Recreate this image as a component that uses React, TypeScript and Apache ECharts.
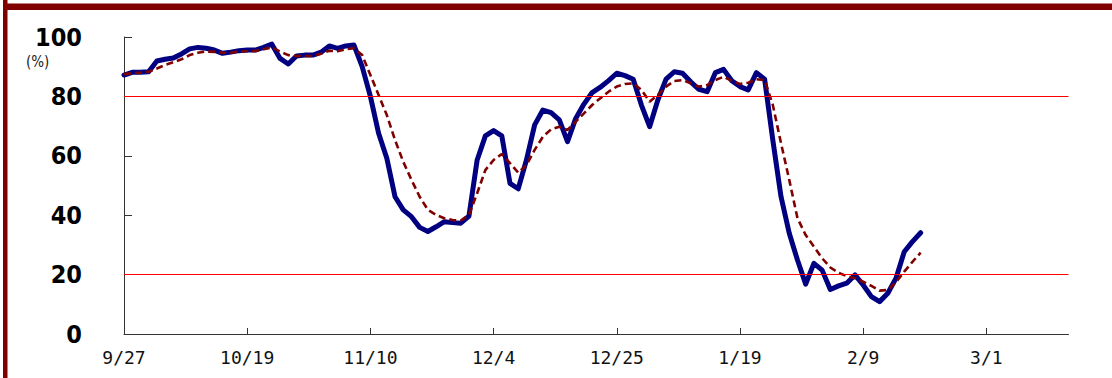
import React, { useEffect, useRef } from "react";
import * as echarts from "echarts";

// Tick labels shown every 15 observations on the x axis
const tickLabels = ["9/27", "10/19", "11/10", "12/4", "12/25", "1/19", "2/9", "3/1"];
const pointsPerTick = 15;
const totalSlots = 115;

// Daily values (%)
const dailyValues = [
  87.2, 88.1, 88.1, 88.3, 91.9, 92.5, 92.9, 94.3, 96.0, 96.5,
  96.2, 95.6, 94.5, 94.9, 95.4, 95.6, 95.6, 96.5, 97.6, 92.8,
  90.9, 93.6, 93.9, 93.9, 94.9, 97.0, 96.2, 97.0, 97.3, 90.0,
  80.0, 67.6, 59.2, 46.2, 41.8, 39.5, 35.9, 34.5, 36.1, 37.8,
  37.5, 37.3, 39.7, 58.6, 66.7, 68.5, 66.7, 50.7, 48.9, 58.6,
  70.4, 75.4, 74.5, 72.1, 64.8, 72.6, 77.4, 81.3, 83.1, 85.3,
  87.8, 87.0, 85.8, 77.1, 69.8, 78.8, 85.8, 88.3, 87.8, 84.9,
  82.4, 81.6, 88.0, 89.1, 85.3, 83.3, 82.2, 88.0, 85.8, 65.3,
  46.2, 33.9, 24.9, 16.8, 23.8, 21.5, 15.0, 16.2, 17.1, 19.9,
  16.5, 12.6, 10.9, 13.7, 18.8, 27.7, 31.1, 34.1,
];

// Moving average (%)
const averageValues = [
  87.5, 87.8, 88.0, 88.3, 89.4, 90.6, 91.5, 92.5, 93.9, 94.7,
  95.1, 95.0, 94.7, 94.7, 95.1, 95.2, 95.3, 95.9, 96.5, 95.1,
  93.9, 93.6, 93.6, 93.6, 94.4, 95.4, 95.2, 95.9, 96.2, 93.9,
  87.2, 80.5, 73.7, 65.3, 58.0, 51.9, 46.2, 41.8, 40.1, 39.0,
  38.4, 38.2, 40.1, 47.4, 55.2, 58.6, 60.6, 57.5, 54.3, 56.9,
  62.0, 66.4, 68.9, 69.8, 68.7, 71.5, 74.3, 77.1, 79.4, 81.6,
  83.3, 84.2, 84.4, 82.2, 78.2, 80.5, 83.3, 85.2, 85.5, 84.4,
  83.3, 83.8, 85.5, 86.6, 85.2, 84.2, 84.6, 85.8, 85.5, 77.1,
  64.2, 51.9, 39.0, 33.3, 29.4, 25.5, 22.4, 20.6, 19.5, 18.8,
  17.6, 16.2, 14.6, 14.8, 17.5, 21.0, 24.3, 27.4,
];

// Reference threshold lines (%)
const thresholds = [80, 20];

export default function App() {
  const ref = useRef<HTMLDivElement>(null);

  useEffect(() => {
    if (!ref.current) return;
    const chart = echarts.init(ref.current, null, { renderer: "svg" });
    const tickPositions = tickLabels.map((_, k) => k * pointsPerTick);

    const option: any = {
      animation: false,
      backgroundColor: "#ffffff",
      grid: { left: 124, right: 43.5, top: 37, bottom: 44 },
      xAxis: {
        type: "value",
        min: 0,
        max: totalSlots,
        interval: pointsPerTick,
        axisLine: { show: true, lineStyle: { color: "#333333", width: 1 } },
        axisTick: {
          show: true,
          inside: true,
          length: 6,
          customValues: tickPositions,
          lineStyle: { color: "#333333" },
        },
        splitLine: { show: false },
        axisLabel: {
          margin: 14,
          color: "#111111",
          fontSize: 18,
          fontFamily: "DejaVu Sans Mono, Liberation Mono, monospace",
          customValues: tickPositions,
          formatter: (v: number) => {
            const k = Math.round(v / pointsPerTick);
            return tickLabels[k] ?? "";
          },
        },
      },
      yAxis: {
        type: "value",
        min: 0,
        max: 100,
        interval: 20,
        axisLine: { show: true, lineStyle: { color: "#333333", width: 1 } },
        axisTick: { show: true, inside: true, length: 8, lineStyle: { color: "#333333" } },
        splitLine: { show: false },
        axisLabel: {
          margin: 42,
          color: "#000000",
          fontSize: 25,
          fontWeight: "bold",
          fontFamily: "DejaVu Sans Condensed, sans-serif",
        },
      },
      graphic: [
        { type: "rect", shape: { x: 3, y: 3.5, width: 1109, height: 6.5 }, style: { fill: "#800000" }, z: 100 },
        { type: "rect", shape: { x: 3, y: 0, width: 4.5, height: 378 }, style: { fill: "#800000" }, z: 100 },
        {
          type: "text",
          left: 26,
          top: 54,
          style: { text: "(%)", fontSize: 15, fill: "#222222", fontFamily: "DejaVu Sans Condensed, sans-serif" },
        },
      ],
      series: [
        {
          type: "line",
          name: "thresholds",
          data: [],
          z: 1,
          silent: true,
          markLine: {
            silent: true,
            symbol: ["none", "none"],
            label: { show: false },
            lineStyle: { color: "#ff0000", width: 1, type: "solid" },
            data: thresholds.map((t) => ({ yAxis: t })),
          },
        },
        {
          type: "line",
          name: "daily",
          data: dailyValues.map((v, i) => [i, v]),
          showSymbol: false,
          symbol: "none",
          z: 2,
          lineStyle: { color: "#000080", width: 5, join: "round", cap: "round" },
        },
        {
          type: "line",
          name: "average",
          data: averageValues.map((v, i) => [i, v]),
          showSymbol: false,
          symbol: "none",
          z: 3,
          lineStyle: { color: "#800000", width: 2.6, type: [7, 4] },
        },
      ],
    };

    chart.setOption(option);
    return () => chart.dispose();
  }, []);

  return (
    <div
      ref={ref}
      style={{ position: "fixed", left: 0, top: 0, width: 1112, height: 378 }}
    />
  );
}
